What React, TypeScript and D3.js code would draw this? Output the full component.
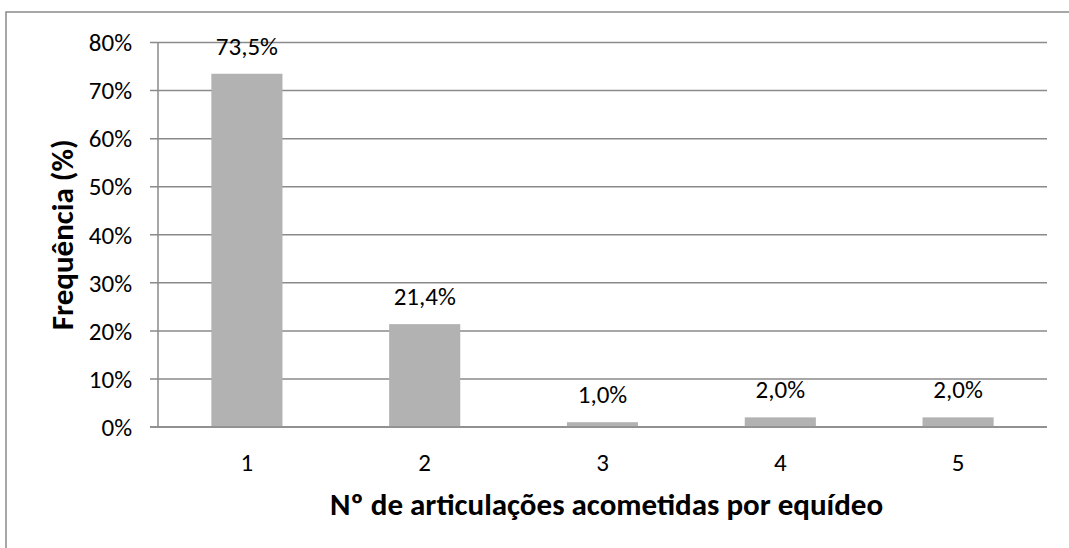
import React from "react";
import * as d3 from "d3";

const categories: string[] = ["1", "2", "3", "4", "5"];
const values: number[] = [73.5, 21.4, 1.0, 2.0, 2.0];
const valueLabels: string[] = ["73,5%", "21,4%", "1,0%", "2,0%", "2,0%"];
const yTicks: number[] = [0, 10, 20, 30, 40, 50, 60, 70, 80];
const xTitle = "Nº de articulações acometidas por equídeo";
const yTitle = "Frequência (%)";

const W = 1069;
const H = 548;
const plot = { left: 158, right: 1047, top: 42.5, bottom: 427 };
const FONT = "Carlito, Calibri, 'Open Sans', sans-serif";
const GRID = "#8a8a8a";
const BAR = "#b2b2b2";

export default function App() {
  const x = d3.scaleBand<string>().domain(categories).range([plot.left, plot.right]).padding(0);
  const y = d3.scaleLinear().domain([0, 80]).range([plot.bottom, plot.top]);
  const bw = x.bandwidth() * 0.4;

  return (
    <svg
      width={W}
      height={H}
      style={{ position: "absolute", left: 0, top: 0, background: "#fff" }}
      fontFamily={FONT}
    >
      <rect x={6} y={12} width={W + 10} height={H + 10} fill="#fff" stroke={GRID} strokeWidth={1.5} />
      {yTicks.map((t) => (
        <g key={t}>
          <line x1={plot.left - 8} x2={plot.right} y1={y(t)} y2={y(t)} stroke={GRID} strokeWidth={1.5} />
          <text x={132} y={y(t)} dy="0.35em" textAnchor="end" fontSize={25} fill="#000">
            {t}%
          </text>
        </g>
      ))}
      <line x1={plot.left} x2={plot.left} y1={plot.top} y2={plot.bottom} stroke={GRID} strokeWidth={1.5} />
      {categories.map((c, i) => {
        const cx = (x(c) as number) + x.bandwidth() / 2;
        return (
          <g key={c}>
            <rect x={cx - bw / 2} y={y(values[i])} width={bw} height={plot.bottom - y(values[i])} fill={BAR} />
            <text x={cx} y={y(values[i]) - 19} textAnchor="middle" fontSize={25} fill="#000">
              {valueLabels[i]}
            </text>
            <text x={cx} y={471} textAnchor="middle" fontSize={25} fill="#000">
              {c}
            </text>
          </g>
        );
      })}
      <line x1={plot.left - 8} x2={plot.right} y1={plot.bottom} y2={plot.bottom} stroke={GRID} strokeWidth={1.5} />
      <text x={(plot.left + plot.right) / 2 + 4} y={515} textAnchor="middle" fontSize={31} fontWeight="bold" fill="#000">
        {xTitle}
      </text>
      <text
        transform={`translate(73, ${(plot.top + plot.bottom) / 2}) rotate(-90)`}
        textAnchor="middle"
        fontSize={31}
        fontWeight="bold"
        fill="#000"
      >
        {yTitle}
      </text>
    </svg>
  );
}
